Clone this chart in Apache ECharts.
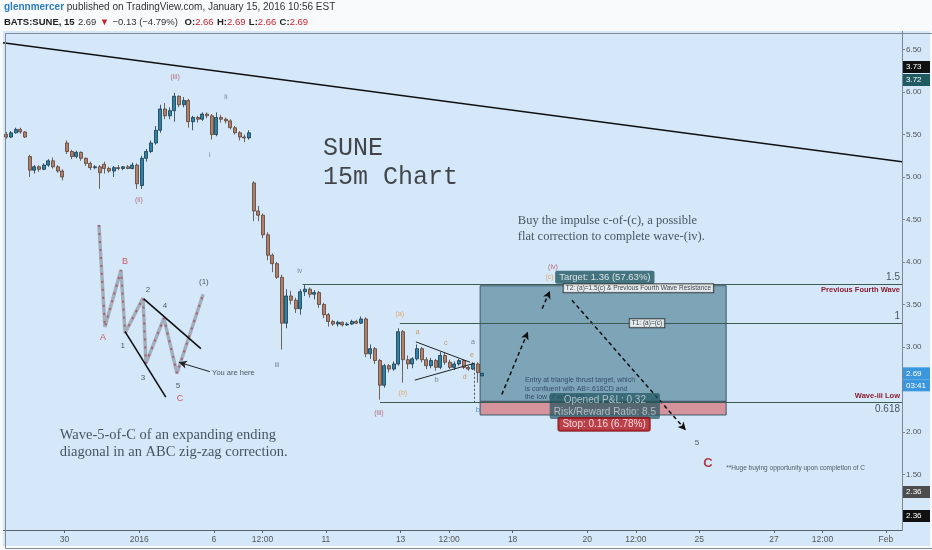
<!DOCTYPE html>
<html lang="en">
<head>
<meta charset="utf-8">
<title>SUNE 15m Chart</title>
<script src="https://cdn.jsdelivr.net/npm/echarts@6/dist/echarts.min.js"></script>
<style>
  html, body { margin: 0; padding: 0; background: #f8fafc; }
  #main { width: 932px; height: 550px; }
</style>
</head>
<body>
<div id="main"></div>
<script>
// x unit = trading session, 0 = open of Jan 11; each session split in 8 slots
var sessionDay = [-9, -8, -7, -6, -5, -4, -3, -2, -1, 0, 1, 2, 3, 4];
var sessionFirstSlot = [3, 0, 0, 0, 0, 0, 0, 0, 0, 0, 0, 0, 0, 0];

// bars: [open, close, low, high]
var dec28 = [[5.50,5.47,5.45,5.53],[5.47,5.52,5.46,5.54],[5.52,5.56,5.51,5.58],[5.56,5.53,5.51,5.58],[5.53,5.47,5.46,5.54]];
var dec29 = [[5.24,5.08,5.00,5.26],[5.08,5.12,5.04,5.14],[5.12,5.09,5.06,5.14],[5.09,5.14,5.08,5.16],[5.14,5.19,5.12,5.21],[5.19,5.12,5.10,5.23],[5.12,5.07,5.05,5.14],[5.07,5.00,4.96,5.09]];
var dec30 = [[5.40,5.30,5.27,5.43],[5.30,5.24,5.21,5.32],[5.24,5.29,5.22,5.31],[5.29,5.22,5.19,5.30],[5.22,5.16,5.13,5.23],[5.16,5.11,5.08,5.18],[5.11,5.12,5.09,5.14],[5.12,5.05,4.86,5.14]];
var dec31 = [[5.15,5.10,5.04,5.18],[5.10,5.07,5.05,5.12],[5.07,5.11,5.00,5.13],[5.11,5.10,5.08,5.14],[5.10,5.12,5.08,5.13],[5.12,5.10,5.09,5.14],[5.10,5.14,5.09,5.17],[5.14,4.92,4.86,5.16]];
var jan4 = [[4.90,5.22,4.86,5.25],[5.22,5.30,5.18,5.33],[5.30,5.40,5.28,5.43],[5.40,5.55,5.38,5.60],[5.55,5.80,5.52,5.85],[5.80,5.72,5.68,5.87],[5.72,5.78,5.68,5.82],[5.78,5.95,5.65,5.99]];
var jan5 = [[5.95,5.85,5.82,5.96],[5.85,5.90,5.82,5.94],[5.90,5.65,5.58,5.92],[5.65,5.70,5.55,5.72],[5.70,5.68,5.64,5.72],[5.68,5.74,5.66,5.76],[5.74,5.72,5.69,5.76],[5.72,5.50,5.44,5.74]];
var jan6 = [[5.50,5.70,5.48,5.76],[5.70,5.68,5.64,5.73],[5.68,5.66,5.63,5.70],[5.66,5.58,5.56,5.68],[5.58,5.52,5.50,5.60],[5.52,5.47,5.43,5.54],[5.47,5.46,5.41,5.50],[5.46,5.52,5.44,5.55]];
var jan7 = [[4.93,4.60,4.48,4.95],[4.60,4.55,4.48,4.66],[4.55,4.32,4.28,4.57],[4.32,4.08,4.02,4.35],[4.08,3.98,3.88,4.10],[3.98,3.82,3.80,4.00],[3.82,3.28,2.97,3.85],[3.28,3.60,3.22,3.68]];
var jan8 = [[3.60,3.55,3.50,3.66],[3.55,3.45,3.40,3.58],[3.45,3.65,3.38,3.68],[3.65,3.68,3.60,3.73],[3.68,3.62,3.58,3.70],[3.62,3.64,3.56,3.67],[3.64,3.50,3.46,3.66],[3.50,3.38,3.34,3.52]];
var jan11 = [[3.38,3.30,3.24,3.40],[3.30,3.27,3.25,3.32],[3.27,3.29,3.24,3.31],[3.29,3.26,3.24,3.30],[3.26,3.27,3.25,3.29],[3.27,3.30,3.26,3.32],[3.30,3.28,3.27,3.32],[3.28,3.33,3.27,3.36]];
var jan12 = [[3.33,2.92,2.88,3.35],[2.92,2.98,2.86,3.03],[2.98,2.84,2.80,3.00],[2.84,2.55,2.38,2.86],[2.55,2.78,2.52,2.80],[2.78,2.74,2.70,2.80],[2.74,2.80,2.72,2.83],[2.80,3.18,2.78,3.22]];
var jan13 = [[3.18,2.85,2.58,3.20],[2.85,2.80,2.74,2.90],[2.80,2.86,2.75,2.88],[2.86,2.98,2.84,3.03],[2.98,2.85,2.82,3.00],[2.85,2.78,2.74,2.88],[2.78,2.84,2.75,2.87],[2.84,2.76,2.72,2.86]];
var jan14 = [[2.76,2.90,2.74,2.94],[2.90,2.82,2.79,2.93],[2.82,2.76,2.74,2.85],[2.76,2.80,2.73,2.83],[2.80,2.84,2.78,2.86],[2.84,2.76,2.74,2.85],[2.76,2.74,2.72,2.78],[2.74,2.80,2.73,2.82]];
var jan15 = [[2.80,2.70,2.58,2.82],[2.66,2.69,2.66,2.69]];
var sessions = [dec28, dec29, dec30, dec31, jan4, jan5, jan6, jan7, jan8, jan11, jan12, jan13, jan14, jan15];

var xMin = -8.65, xMax = 15.43;
var yMin = 0.8466, yMax = 6.7176;
var xTickDays = [-7, -5, -3, -1.7, 0, 2, 3.3, 5, 7, 8.3, 10, 12, 13.3, 15];
var xTickLabels = ['30', '2016', '6', '12:00', '11', '13', '12:00', '18', '20', '12:00', '25', '27', '12:00', 'Feb'];
var priceTicks = [1.5, 2, 3, 3.5, 4, 4.5, 5, 5.5, 6, 6.5];
var lastPrice = 2.69;

// drawings, in [session, price]
var trendLine = [[-8.65, 6.58], [15.43, 5.18]];
var insetPath = [[-6.08,4.435],[-5.92,3.235],[-5.49,3.905],[-5.38,3.165],[-4.90,3.575],[-4.82,2.81],[-4.34,3.34],[-3.99,2.69],[-3.29,3.62]];
var insetWedge = [[[-5.38,3.18],[-4.29,2.41]], [[-4.88,3.565],[-3.35,2.98]]];
var hereArrow = [[-3.11, 2.71], [-3.94, 2.82]];
var triangleLines = [[[2.41,3.06],[3.86,2.82]], [[2.38,2.61],[3.99,2.81]]];
var bVertical = [[3.96, 2.79], [3.96, 2.35]];
var pathArrows = [[[4.71,2.44],[5.41,3.18]], [[5.79,3.45],[6.0,3.66]], [[6.59,3.55],[9.64,2.02]]];

var fibLevel = [3.74, 3.28, 2.353];
var fibStart = [-0.62, 1.98, 1.45];
var fibRatio = ['1.5', '1', '0.618'];
var fibName = ['Previous Fourth Wave', '', 'Wave-iii Low'];

var posFrom = 4.13, posTo = 10.72;
var posEntry = 2.36, posTarget = 3.72, posStop = 2.20;

var countText = ['(iii)', '(ii)', 'i', 'ii', 'iii', 'iv', '(iii)', '(iv)'];
var countAt = [[-4.04,6.18],[-5.01,4.73],[-3.11,5.26],[-2.68,5.94],[-1.31,2.79],[-0.70,3.89],[1.42,2.22],[6.08,3.94]];
var countKind = ['major', 'major', 'minor', 'minor', 'minor', 'minor', 'major', 'major'];

var abcText = ['(a)', '(b)', '(c)', 'a', 'b', 'c', 'd', 'e', 'a', 'b'];
var abcAt = [[1.98,3.39],[2.06,2.46],[5.99,3.82],[2.46,3.18],[2.97,2.61],[3.21,3.05],[3.72,2.65],[3.91,2.905],[3.94,3.06],[4.07,2.26]];
var abcKind = ['orange', 'orange', 'orange', 'tan', 'grey', 'tan', 'tan', 'tan', 'grey', 'blue'];

var insetText = ['A', 'B', '1', '2', '3', '4', '5', '(1)', 'C', '5', 'C'];
var insetAt = [[-5.97,3.11],[-5.38,4.0],[-5.44,3.01],[-4.77,3.67],[-4.90,2.635],[-4.31,3.48],[-3.96,2.54],[-3.27,3.765],[-3.91,2.39],[9.94,1.87],[10.23,1.63]];
var insetKind = ['red', 'red', 'dark', 'dark', 'dark', 'dark', 'dark', 'dark', 'red', 'dark', 'bigred'];

var noteText = [
  'SUNE\n15m Chart',
  'Buy the impulse c-of-(c), a possible\nflat correction to complete wave-(iv).',
  'Wave-5-of-C of an expanding ending\ndiagonal in an ABC zig-zag correction.',
  'Entry at triangle thrust target, which\nis confluent with AB=.618CD and\nthe low of wave-(iii).',
  '**Huge buying opportunity upon completion of C',
  'You are here'
];
var noteAt = [[-0.08,5.165],[5.14,4.388],[-7.13,1.865],[5.33,2.506],[10.72,1.576],[-3.05,2.69]];

var tagText = ['Target: 1.36 (57.63%)', 'T2: (a)=1.5(c) & Previous Fourth Wave Resistance', 'T1: (a)=(c)', 'Opened P&L: 0.32\nRisk/Reward Ratio: 8.5', 'Stop: 0.16 (6.78%)'];
var tagAt = [[7.47,3.82],[8.37,3.69],[8.6,3.28],[7.47,2.306],[7.45,2.09]];

// ---------------------------------------------------------------
var SANS = "'Liberation Sans', Arial, sans-serif";
var NARROW = "'Liberation Sans Narrow', 'Liberation Sans', Arial, sans-serif";

var candleData = [];
sessions.forEach(function (bars, i) {
  bars.forEach(function (b, k) {
    candleData.push([sessionDay[i] + (sessionFirstSlot[i] + k + 0.5) / 8, b[0], b[1], b[2], b[3]]);
  });
});

function seg(a, b, style, endSymbol) {
  return [
    { coord: a, symbol: 'none' },
    { coord: b, symbol: endSymbol || 'none', lineStyle: style }
  ];
}

var lines = [];
lines.push(seg(trendLine[0], trendLine[1], { color: '#111', width: 1.6, type: 'solid' }));
insetWedge.forEach(function (w) { lines.push(seg(w[0], w[1], { color: '#111', width: 1.6, type: 'solid' })); });
lines.push(seg(hereArrow[0], hereArrow[1], { color: '#222', width: 1, type: 'solid' }, 'arrow'));
triangleLines.forEach(function (w) { lines.push(seg(w[0], w[1], { color: '#222', width: 1, type: 'solid' })); });
lines.push(seg(bVertical[0], bVertical[1], { color: '#555', width: 1, type: [2, 2] }));
pathArrows.forEach(function (w) { lines.push(seg(w[0], w[1], { color: '#111', width: 1.5, type: [4, 3] }, 'arrow')); });

var fibLine = { color: '#3d5c52', width: 1.2, type: 'solid' };
function fibLabel(text, pos, extra) {
  return Object.assign({ show: true, position: pos, formatter: text, distance: 2, fontFamily: SANS }, extra);
}
var ratioStyle = { color: '#4a5560', fontSize: 10 };
var nameStyle = { color: '#8e1b2e', fontWeight: 'bold', fontSize: 7.5 };
fibLevel.forEach(function (lv, i) {
  var ratioPos = i === 2 ? 'insideEndBottom' : 'insideEndTop';
  lines.push([{ coord: [fibStart[i], lv], symbol: 'none' },
    { coord: [xMax, lv], symbol: 'none', lineStyle: fibLine, label: fibLabel(fibRatio[i], ratioPos, ratioStyle) }]);
  if (fibName[i]) {
    var namePos = i === 0 ? 'insideEndBottom' : 'insideEndTop';
    lines.push([{ coord: [fibStart[i], lv], symbol: 'none' },
      { coord: [xMax, lv], symbol: 'none', lineStyle: fibLine, label: fibLabel(fibName[i], namePos, nameStyle) }]);
  }
});

var kindStyle = {
  major: { color: '#b24a5c', fontSize: 7 },
  minor: { color: '#5a6b7b', fontSize: 7 },
  orange: { color: '#e39a45', fontSize: 7 },
  tan: { color: '#c4823f', fontSize: 7 },
  grey: { color: '#5a6b7b', fontSize: 7 },
  blue: { color: '#3a78b8', fontSize: 8 },
  red: { color: '#c8323c', fontSize: 9 },
  dark: { color: '#2b3440', fontSize: 8 },
  bigred: { color: '#a8121c', fontSize: 13, fontWeight: 'bold' }
};

function textItems(texts, at, kinds) {
  return texts.map(function (t, i) {
    var s = kindStyle[kinds[i]];
    return { value: at[i], label: { formatter: t, color: s.color, fontSize: s.fontSize, fontWeight: s.fontWeight || 'normal' } };
  });
}

var labelItems = textItems(countText, countAt, countKind)
  .concat(textItems(abcText, abcAt, abcKind))
  .concat(textItems(insetText, insetAt, insetKind));

var noteStyles = [
  { fontFamily: "'Liberation Mono', 'Courier New', monospace", fontSize: 25, lineHeight: 29, color: '#1c1c1c' },
  { fontFamily: "'Liberation Serif', 'Times New Roman', serif", fontSize: 12.5, lineHeight: 16, color: '#1f2a36' },
  { fontFamily: "'Liberation Serif', 'Times New Roman', serif", fontSize: 14.5, lineHeight: 17, color: '#1f2a36' },
  { fontFamily: SANS, fontSize: 7, lineHeight: 8.5, color: '#1d3452' },
  { fontFamily: SANS, fontSize: 6.5, color: '#2b3440' },
  { fontFamily: SANS, fontSize: 7.5, color: '#2b3440' }
];
var noteItems = noteText.map(function (t, i) {
  return { value: noteAt[i], label: Object.assign({ formatter: t }, noteStyles[i]) };
});

var tagStyles = [
  { color: '#fff', backgroundColor: '#1f5660', fontSize: 9.5, padding: [2, 4, 1, 4], borderRadius: 2 },
  { color: '#111', backgroundColor: '#fff', borderColor: '#222', borderWidth: 1, fontSize: 6.5, padding: [1, 2, 0, 2] },
  { color: '#111', backgroundColor: '#fff', borderColor: '#222', borderWidth: 1, fontSize: 6.5, padding: [1, 2, 0, 2] },
  { color: '#c9d4da', backgroundColor: 'rgba(32,84,94,0.88)', fontSize: 10, lineHeight: 12, padding: [1, 4, 1, 4], borderRadius: 2, align: 'center' },
  { color: '#fff', backgroundColor: '#b3151d', borderColor: '#7d0c12', borderWidth: 1, fontSize: 10, padding: [2, 4, 1, 4], borderRadius: 2 }
];
var tagItems = tagText.map(function (t, i) {
  return { value: tagAt[i], label: Object.assign({ formatter: t, fontFamily: SANS }, tagStyles[i]) };
});

var chart = echarts.init(document.getElementById('main'));

var option = {
  backgroundColor: '#d4e8fa',
  animation: false,
  grid: { left: 3, right: 30, top: 31, bottom: 20, containLabel: false },
  xAxis: {
    type: 'value', min: xMin, max: xMax,
    axisLine: { show: true, onZero: false, lineStyle: { color: '#56616b', width: 1 } },
    axisTick: { show: true, customValues: xTickDays, length: 3, lineStyle: { color: '#56616b' } },
    axisLabel: {
      customValues: xTickDays, color: '#555', fontSize: 8.5, margin: 5, fontFamily: NARROW,
      formatter: function (v) { var i = xTickDays.indexOf(v); return i < 0 ? '' : xTickLabels[i]; }
    },
    splitLine: { show: false }
  },
  yAxis: {
    type: 'value', position: 'right', min: yMin, max: yMax,
    axisLine: { show: true, onZero: false, lineStyle: { color: '#7b8692' } },
    axisTick: { show: true, customValues: priceTicks, length: 3, lineStyle: { color: '#7b8692' } },
    axisLabel: {
      customValues: priceTicks, color: '#555', fontSize: 8, margin: 4, fontFamily: NARROW,
      formatter: function (v) { return v.toFixed(2); }
    },
    splitLine: { show: false }
  },
  series: [
    {
      type: 'line', data: insetPath, symbol: 'none', z: 3, silent: true,
      lineStyle: { color: 'rgba(150,160,172,0.8)', width: 3.5 }
    },
    {
      type: 'line', data: insetPath, symbol: 'none', z: 3, silent: true,
      lineStyle: { color: 'rgba(170,70,80,0.75)', width: 2, type: [2, 6] }
    },
    {
      type: 'candlestick', data: candleData, encode: { x: 0, y: [1, 2, 3, 4] },
      barWidth: 3.6, z: 4,
      itemStyle: { color: '#2a84aa', color0: '#b0806a', borderColor: '#1b3748', borderColor0: '#5b3f31', borderWidth: 0.8 },
      markArea: {
        silent: true,
        data: [
          [{ coord: [posFrom, posEntry], itemStyle: { color: '#7ea4b8', borderColor: '#3a5766', borderWidth: 1 } }, { coord: [posTo, posTarget] }],
          [{ coord: [posFrom, posStop], itemStyle: { color: '#d4939d', borderColor: '#3a5766', borderWidth: 1 } }, { coord: [posTo, posEntry] }]
        ]
      },
      markLine: {
        silent: true, animation: false, symbol: ['none', 'none'], symbolSize: [6, 8], precision: 4,
        label: { show: false },
        emphasis: { disabled: true },
        data: lines
      }
    },
    {
      type: 'scatter', data: labelItems, symbolSize: 0, z: 10, silent: true,
      label: { show: true, position: 'inside', fontFamily: SANS }
    },
    {
      type: 'scatter', data: noteItems, symbolSize: 0, z: 10, silent: true,
      label: { show: true, position: 'right', distance: 0, align: 'left' }
    },
    {
      type: 'scatter', data: tagItems, symbolSize: 0, z: 11, silent: true,
      label: { show: true, position: 'inside' }
    }
  ]
};
chart.setOption(option);

// chrome: header, frame and price-scale tags
var lastY = chart.convertToPixel({ yAxisIndex: 0 }, lastPrice);
function priceTag(y, text, bg) {
  return {
    type: 'group', left: 903, top: y - 6, z: 100,
    children: [
      { type: 'rect', shape: { x: 0, y: 0, width: 27, height: 12 }, style: { fill: bg } },
      { type: 'text', x: 3, y: 6, style: { text: text, fill: '#fff', font: '8px ' + NARROW, verticalAlign: 'middle' } }
    ]
  };
}
chart.setOption({
  graphic: [
    { type: 'rect', left: 0, top: 0, shape: { width: 932, height: 31 }, style: { fill: '#f8fafc' }, z: 100 },
    { type: 'rect', left: 0, top: 546, shape: { width: 932, height: 4 }, style: { fill: '#f8fafc' }, z: 100 },
    { type: 'rect', left: 0, top: 31, shape: { width: 3, height: 519 }, style: { fill: '#f8fafc' }, z: 100 },
    { type: 'rect', left: 930, top: 31, shape: { width: 2, height: 519 }, style: { fill: '#f8fafc' }, z: 100 },
    { type: 'rect', left: 3, top: 31, shape: { width: 927, height: 515 }, style: { fill: 'none', stroke: '#7f8b96', lineWidth: 1 }, z: 100 },
    {
      type: 'text', left: 4, top: 2, z: 100,
      style: {
        text: '{u|glennmercer}{t| published on TradingView.com, January 15, 2016 10:56 EST}',
        rich: {
          u: { fill: '#2b7cc0', fontWeight: 'bold', fontSize: 10, fontFamily: NARROW },
          t: { fill: '#333', fontSize: 10, fontFamily: NARROW }
        }
      }
    },
    {
      type: 'text', left: 4, top: 16, z: 100,
      style: {
        text: '{b|BATS:SUNE, 15} {n|2.69} {r|\u25BC} {n|\u22120.13 (\u22124.79%)}  {b|O:}{r|2.66} {b|H:}{r|2.69} {b|L:}{r|2.66} {b|C:}{r|2.69}',
        rich: {
          b: { fill: '#222', fontWeight: 'bold', fontSize: 9.5, fontFamily: NARROW },
          n: { fill: '#333', fontSize: 9.5, fontFamily: NARROW },
          r: { fill: '#c3262e', fontSize: 9.5, fontFamily: NARROW }
        }
      }
    },
    priceTag(67, '3.73', '#111'),
    priceTag(80, '3.72', '#1f5a60'),
    priceTag(lastY, '2.69', '#3b97dd'),
    priceTag(lastY + 12, '03:41', '#3b97dd'),
    priceTag(492, '2.36', '#4d4d4d'),
    priceTag(516, '2.36', '#111')
  ]
});
</script>
</body>
</html>
